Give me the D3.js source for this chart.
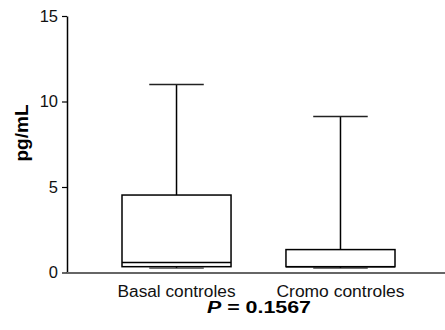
<!DOCTYPE html>
<html>
<head>
<meta charset="utf-8">
<script src="https://cdn.jsdelivr.net/npm/d3@7"></script>
<style>
  body { margin: 0; background: #fff; }
  svg text { font-family: "Liberation Sans", Arial, sans-serif; }
</style>
</head>
<body>
<svg id="chart" width="445" height="330"></svg>
<script>
(function () {
  // Data
  const groups = ['Basal controles', 'Cromo controles'];
  const mins = [0.26, 0.26];
  const q1s = [0.34, 0.34];
  const medians = [0.58, 0.34];
  const q3s = [4.53, 1.34];
  const maxs = [11.0, 9.12];
  const yTicks = [0, 5, 10, 15];

  const svg = d3.select('#chart');
  const m = { left: 67, top: 16, bottom: 57.5 };
  const width = 445, height = 330;

  const y = d3.scaleLinear().domain([0, 15]).range([height - m.bottom, m.top]);
  const x = d3.scaleBand().domain(groups).range([122, 395]).paddingInner(0.335).paddingOuter(0);

  const boxes = groups.map((g, i) => ({
    g, min: mins[i], q1: q1s[i], med: medians[i], q3: q3s[i], max: maxs[i]
  }));

  // Y axis
  const yAxis = svg.append('g')
    .attr('transform', `translate(${m.left},0)`)
    .call(d3.axisLeft(y).tickValues(yTicks).tickSize(5).tickSizeOuter(0).tickPadding(4));
  yAxis.select('.domain').attr('stroke', '#000').attr('stroke-width', 1.5);
  yAxis.selectAll('.tick line').attr('stroke', '#000').attr('stroke-width', 1.2);
  yAxis.selectAll('.tick text').attr('font-size', 16.5).attr('fill', '#111')
    .attr('font-family', '"Liberation Sans", Arial, sans-serif');

  // X axis line
  svg.append('line')
    .attr('x1', m.left).attr('x2', width)
    .attr('y1', y(0) + 0.5).attr('y2', y(0) + 0.5)
    .attr('stroke', '#666').attr('stroke-width', 2);

  const bw = x.bandwidth();
  const capW = bw * 0.5;

  const box = svg.append('g').selectAll('g')
    .data(boxes)
    .join('g')
    .attr('transform', d => `translate(${x(d.g)},0)`);

  // whisker lines
  box.append('line')
    .attr('x1', bw / 2).attr('x2', bw / 2)
    .attr('y1', d => y(d.max)).attr('y2', d => y(d.q3))
    .attr('stroke', '#000').attr('stroke-width', 1.5);
  box.append('line')
    .attr('x1', bw / 2).attr('x2', bw / 2)
    .attr('y1', d => y(d.q1)).attr('y2', d => y(d.min))
    .attr('stroke', '#000').attr('stroke-width', 1.5);
  // caps
  box.append('line')
    .attr('x1', bw / 2 - capW / 2).attr('x2', bw / 2 + capW / 2)
    .attr('y1', d => y(d.max)).attr('y2', d => y(d.max))
    .attr('stroke', '#222').attr('stroke-width', 1.5);
  box.append('line')
    .attr('x1', bw / 2 - capW / 2).attr('x2', bw / 2 + capW / 2)
    .attr('y1', d => y(d.min)).attr('y2', d => y(d.min))
    .attr('stroke', '#444').attr('stroke-width', 1.2);
  // box
  box.append('rect')
    .attr('x', 0).attr('width', bw)
    .attr('y', d => y(d.q3)).attr('height', d => y(d.q1) - y(d.q3))
    .attr('fill', '#fff').attr('stroke', '#000').attr('stroke-width', 1.5);
  // median
  box.append('line')
    .attr('x1', 0).attr('x2', bw)
    .attr('y1', d => y(d.med)).attr('y2', d => y(d.med))
    .attr('stroke', '#000').attr('stroke-width', 1.5);

  // category labels (reference glyphs run wide, so stretch to measured widths)
  const labelWidths = [118, 128];
  svg.append('g').selectAll('text')
    .data(groups)
    .join('text')
    .attr('x', d => x(d) + bw / 2)
    .attr('y', 297)
    .attr('text-anchor', 'middle')
    .attr('font-size', 16)
    .attr('fill', '#111')
    .attr('textLength', (d, i) => labelWidths[i])
    .attr('lengthAdjust', 'spacingAndGlyphs')
    .text(d => d);

  // P value
  const p = svg.append('text')
    .attr('x', 259).attr('y', 313)
    .attr('text-anchor', 'middle')
    .attr('font-size', 16)
    .attr('font-weight', 'bold')
    .attr('fill', '#000')
    .attr('textLength', 104)
    .attr('lengthAdjust', 'spacingAndGlyphs');
  p.append('tspan').attr('font-style', 'italic').text('P');
  p.append('tspan').text(' = 0.1567');

  // Y title
  svg.append('text')
    .attr('transform', 'translate(28,133) rotate(-90)')
    .attr('text-anchor', 'middle')
    .attr('font-size', 19)
    .attr('font-weight', 'bold')
    .attr('fill', '#000')
    .text('pg/mL');
})();
</script>
</body>
</html>
